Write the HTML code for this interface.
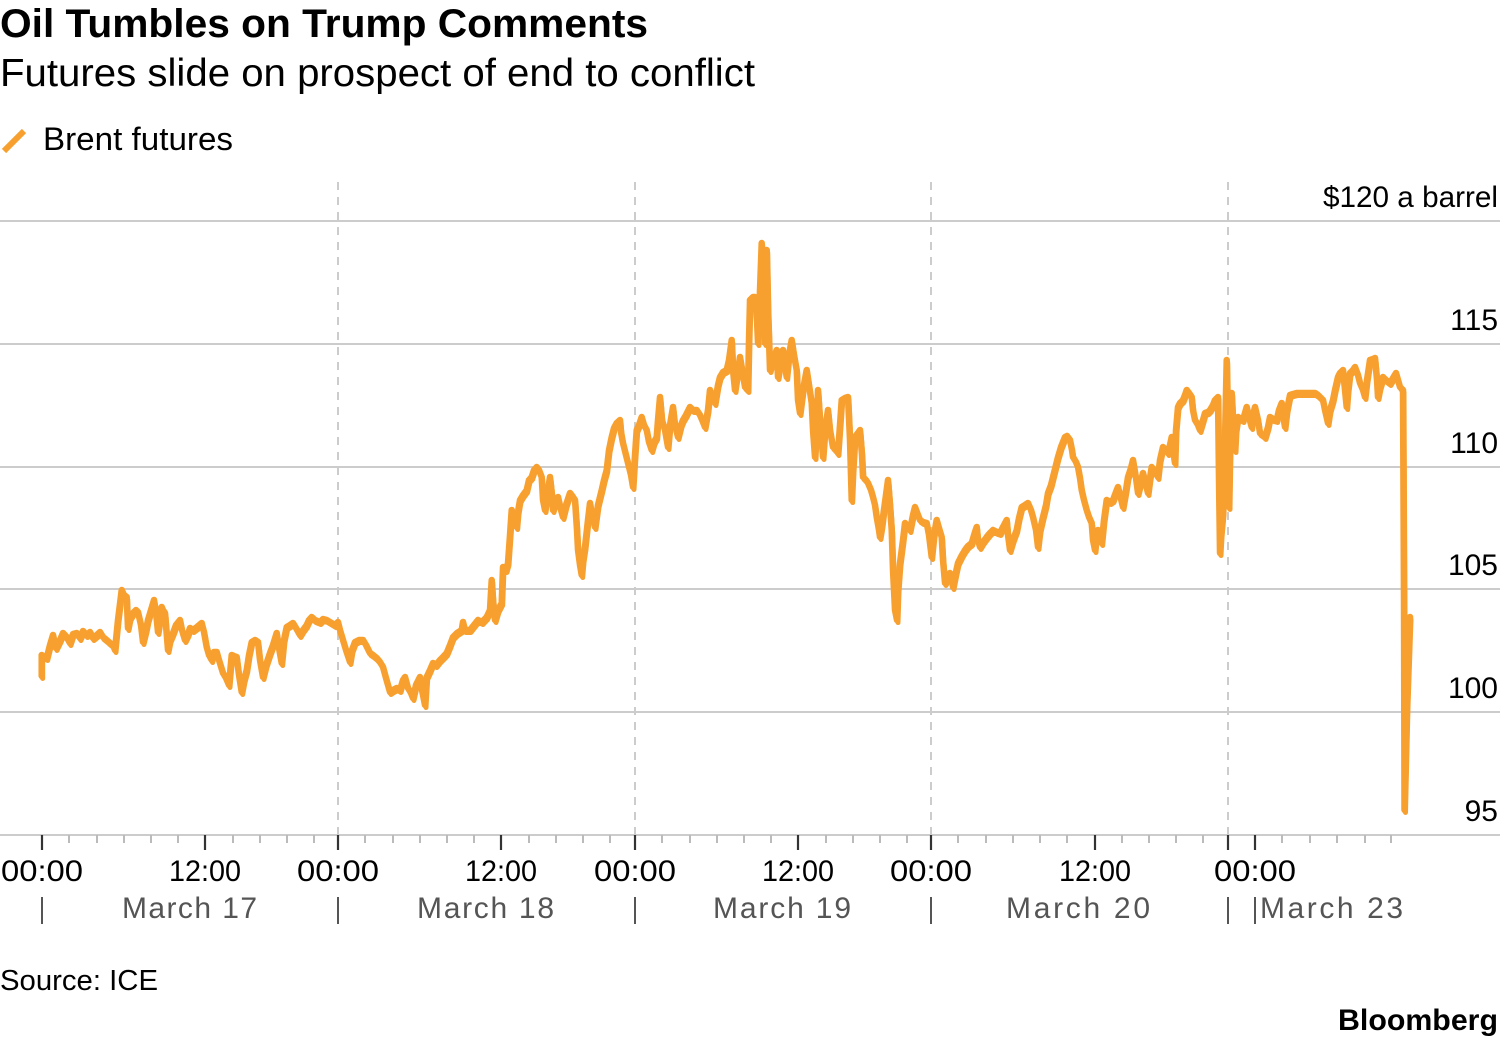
<!DOCTYPE html>
<html>
<head>
<meta charset="utf-8">
<style>
  html, body { margin: 0; padding: 0; background: #fff; }
  svg { display: block; }
  text { font-family: "Liberation Sans", "DejaVu Sans", sans-serif; }
</style>
</head>
<body>
<svg width="1500" height="1041" viewBox="0 0 1500 1041" xmlns="http://www.w3.org/2000/svg">
  <defs>
    <polyline id="series" fill="none" stroke-linejoin="round" stroke-linecap="round" points="
41.7,676 41.7,655 46.7,658 50,645 53,635 56,648 60,640 63,633 66.7,637 70,643 73,634 76.7,633 80,638 83,631 86.7,635 90,632 93,638 96.7,635 100,632 103,637 106.7,640 110,643 113,645 115,650 118,620 121.7,590 124,595 126.7,597 128,628 130,618 133,613 136,610 138,612 141,625 143,642 146,630 148,620 151,610 154,600 156,612 158,632 160,620 161.7,607 163,610 165,613 168,650 170,640 173,633 176,625 180,620 182,630 185,640 188,634 190,628 193,630 197,627 201.7,623 204,632 206.7,647 209,655 211.7,660 214,652 216.7,652 219,660 223,673 226,678 229,685 231.7,655 234,656 236.7,657 239,675 241.7,692 244,680 246.7,670 249,655 251.7,642 255,640 258,642 260,660 263,677 266,665 270,653 273,645 276.7,633 279,648 281.7,663 284,640 286.7,627 290,625 293,623 296,628 300,635 303,630 306.7,625 309,620 311.7,617 315,620 320,622 323,619 326.7,620 330,622 335,625 338,622 340,630 343,640 346,650 350,662 352,650 355,642 359,640 363,640 366,645 370,653 373,655 376.7,658 380,662 383,667 386,678 390,692 393,690 396.7,688 400,690 403,680 405,677 408,688 411,693 413,698 416,685 420,677 422,690 425,705
426.7,677 430,670 433,663 436,665 440,660 443,657 446.7,653 450,645 453,637 457,633 461.7,630 463,622 465,630 470,630 474,625 478,620 482,622 486.7,617 490,610 491.7,580 493,600 495,620 498,610 501.7,603 503,567 506,570 508,563 510,535 511.7,510 514,520 516.7,527 518,512 520,500 523,495 526.7,490 529,480 531.7,477 534,470 536.7,467 539,470 541.7,477 543,500 545,510 548,490 550,477 552,495 553,510 556,500 558,497 561,510 563,517 566,505 570,493 573,497 575,500 577,530 578,550 580,565 581.7,575 583,560 585,547 588,520 590,503 592,515 595,527 598,505 601.7,490 604,480 606.7,470 609,450 611.7,437 614,428 616.7,423 620,420 621,432 623,443 626,455 628,463 631,475 633,487 635,455 636.7,430 639,425 641.7,417 644,425 646.7,430 649,442 651.7,450 654,442 656.7,437 658,420 660,397 662,420 665,430 668,447 670,425 673,407 675,425 678,437 681,425 683,420 686,415 690,407 693,410 696.7,410 700,415 703,422 705,427 708,410 710,390 713,398 715,403 718,385 720,377 723,372 726.7,370 729,360 731.7,340 733,370 735,390 738,370 740,357 743,375 745,387 748,390 749,340 750,300 753,297 755,297 757,320 758,343 760,290 761.7,243 763,280 765,343 766,300 766.7,250 768,310 770,370 773,360 776.7,350 778,377 781,360 783,350 785,365 786.7,377 789,355 791.7,340 794,355 796.7,370 798,400 800,413 803,390 806.7,370 809,385 811.7,403 813,430 815,457 817,420 818,390
820,420 823,457 825,430 828,410 830,430 833,447 836,450 838,453 840,425 841.7,400 845,398 848,397 850,440 851.7,500 853,470 855,437 858,433 860,430 862,455 863,477 866,480 868,483 871,490 873,497 875,505 876.7,517 879,530 880,537 882,525 883,517 886,495 888,480 890,505 891.7,530 893,570 895,610 897,620 898,590 900,563 903,540 905,523 908,527 910,530 913,515 915,507 918,515 920,520 923,522 926.7,523 929,535 931.7,557 934,535 936.7,520 939,528 941.7,537 943,560 945,583 948,578 950,573 952,580 953,587 956,572 958,563 962,555 965,550 968,546 971.7,543 975,532 976.7,527 978,540 980,547 983,542 986.7,537 990,533 993,530 997,532 1000,533 1003,527 1006.7,520 1008,535 1010,550 1013,540 1016.7,530 1019,518 1021.7,507 1025,505 1028,503 1031,510 1033,517 1036,530 1038,547 1040,530 1043,517 1046,505 1048,493 1051,485 1053,477 1056,465 1058,457 1061,447 1065,437 1067,436 1070,440 1072,450 1073,457 1076,462 1078,467 1080,478 1081.7,490 1084,500 1086.7,510 1089,517 1091.7,523 1093,540 1095,550 1096,540 1098,530 1100,537 1101.7,543 1104,520 1106.7,500 1110,502 1113,500 1116,492 1118,487 1120,495 1123,507 1126,490 1128,477 1131,468 1133,460 1136,478 1138,493
1140,485 1143,473 1146,485 1148,493 1150,478 1151.7,467 1155,472 1158,477 1160,460 1163,447 1166,450 1168,453 1170,445 1171.7,437 1173,450 1175,463 1176,430 1178,407 1180,403 1183,400 1185,395 1186.7,390 1189,393 1191.7,397 1193,410 1195,420 1198,425 1200,430 1203,420 1205,413 1208,412 1210,410 1213,405 1215,400 1217,398 1218,397 1219,480 1220,553 1221,535 1223,513 1225,440 1226.7,360 1228,430 1229,507 1230,450 1231.7,393 1233,420 1235,450 1236,430 1238,417 1241,419 1243,420 1245,413 1246.7,407 1249,417 1251.7,427 1253,415 1255,407 1258,420 1260,433 1263,435 1265,437 1268,427 1270,417 1273,419 1276.7,420 1279,410 1281.7,403 1283,415 1285,427 1287,410 1290,395 1293,394 1296.7,393 1300,393 1303,393 1306.7,393 1310,393 1313,393 1315,393 1318,395 1320,397 1323,400 1325,410 1328,423 1330,410 1333,400 1335,390 1338,377 1340,373 1343,370 1345,390 1346.7,407 1348,390 1350,373 1353,370 1355,367 1358,375 1360,383 1363,390 1365,397 1367,380 1370,360 1373,359 1375,358 1377,380 1378,397 1380,387 1383,377 1386,380 1390,383 1393,378 1396,373 1398,380 1400,387 1403,390 1404,600 1404.5,810 1407,705 1410,617"/>
  </defs>

  <rect x="0" y="0" width="1500" height="1041" fill="#fff"/>

  <!-- Titles -->
  <text x="0" y="37" font-size="40" font-weight="bold" fill="#000" textLength="648" lengthAdjust="spacingAndGlyphs">Oil Tumbles on Trump Comments</text>
  <text x="0" y="86" font-size="39" fill="#000" textLength="755" lengthAdjust="spacingAndGlyphs">Futures slide on prospect of end to conflict</text>

  <!-- Legend -->
  <line x1="4" y1="151" x2="24" y2="131" stroke="#f7a030" stroke-width="6"/>
  <text x="43" y="150" font-size="32" fill="#000" textLength="190" lengthAdjust="spacingAndGlyphs">Brent futures</text>

  <!-- Gridlines -->
  <g stroke="#cccccc" stroke-width="2">
    <line x1="0" y1="221" x2="1500" y2="221"/>
    <line x1="0" y1="344" x2="1500" y2="344"/>
    <line x1="0" y1="467" x2="1500" y2="467"/>
    <line x1="0" y1="589" x2="1500" y2="589"/>
    <line x1="0" y1="712" x2="1500" y2="712"/>
  </g>

  <!-- Dashed day lines -->
  <g stroke="#cccccc" stroke-width="2" stroke-dasharray="8 7">
    <line x1="338" y1="182" x2="338" y2="835"/>
    <line x1="635" y1="182" x2="635" y2="835"/>
    <line x1="931" y1="182" x2="931" y2="835"/>
    <line x1="1228" y1="182" x2="1228" y2="835"/>
  </g>

  <!-- Y labels -->
  <g font-size="30" fill="#000" text-anchor="end">
    <text x="1498" y="207" textLength="175" lengthAdjust="spacingAndGlyphs">$120 a barrel</text>
    <text x="1498" y="330">115</text>
    <text x="1498" y="453">110</text>
    <text x="1498" y="575">105</text>
    <text x="1498" y="698">100</text>
    <text x="1498" y="821">95</text>
  </g>

  <!-- Axis -->
  <line x1="0" y1="835" x2="1500" y2="835" stroke="#cccccc" stroke-width="2"/>

  <!-- Minor ticks -->
  <g stroke="#bbbbbb" stroke-width="2">
    <line x1="69" y1="835" x2="69" y2="843"/><line x1="97" y1="835" x2="97" y2="843"/><line x1="124" y1="835" x2="124" y2="843"/><line x1="151" y1="835" x2="151" y2="843"/><line x1="178" y1="835" x2="178" y2="843"/>
    <line x1="233" y1="835" x2="233" y2="843"/><line x1="260" y1="835" x2="260" y2="843"/><line x1="287" y1="835" x2="287" y2="843"/><line x1="314" y1="835" x2="314" y2="843"/>

    <line x1="365" y1="835" x2="365" y2="843"/><line x1="393" y1="835" x2="393" y2="843"/><line x1="420" y1="835" x2="420" y2="843"/><line x1="447" y1="835" x2="447" y2="843"/><line x1="474" y1="835" x2="474" y2="843"/>
    <line x1="529" y1="835" x2="529" y2="843"/><line x1="556" y1="835" x2="556" y2="843"/><line x1="583" y1="835" x2="583" y2="843"/><line x1="610" y1="835" x2="610" y2="843"/>

    <line x1="662" y1="835" x2="662" y2="843"/><line x1="690" y1="835" x2="690" y2="843"/><line x1="717" y1="835" x2="717" y2="843"/><line x1="744" y1="835" x2="744" y2="843"/><line x1="771" y1="835" x2="771" y2="843"/>
    <line x1="826" y1="835" x2="826" y2="843"/><line x1="853" y1="835" x2="853" y2="843"/><line x1="880" y1="835" x2="880" y2="843"/><line x1="907" y1="835" x2="907" y2="843"/>

    <line x1="958" y1="835" x2="958" y2="843"/><line x1="986" y1="835" x2="986" y2="843"/><line x1="1013" y1="835" x2="1013" y2="843"/><line x1="1040" y1="835" x2="1040" y2="843"/><line x1="1067" y1="835" x2="1067" y2="843"/>
    <line x1="1122" y1="835" x2="1122" y2="843"/><line x1="1149" y1="835" x2="1149" y2="843"/><line x1="1176" y1="835" x2="1176" y2="843"/><line x1="1203" y1="835" x2="1203" y2="843"/>

    <line x1="1282" y1="835" x2="1282" y2="843"/><line x1="1310" y1="835" x2="1310" y2="843"/><line x1="1337" y1="835" x2="1337" y2="843"/><line x1="1365" y1="835" x2="1365" y2="843"/><line x1="1391" y1="835" x2="1391" y2="843"/>
  </g>

  <!-- Major ticks -->
  <g stroke="#333333" stroke-width="2.2">
    <line x1="42" y1="835" x2="42" y2="850"/>
    <line x1="205" y1="835" x2="205" y2="850"/>
    <line x1="338" y1="835" x2="338" y2="850"/>
    <line x1="501" y1="835" x2="501" y2="850"/>
    <line x1="635" y1="835" x2="635" y2="850"/>
    <line x1="798" y1="835" x2="798" y2="850"/>
    <line x1="931" y1="835" x2="931" y2="850"/>
    <line x1="1095" y1="835" x2="1095" y2="850"/>
    <line x1="1228" y1="835" x2="1228" y2="850"/>
    <line x1="1255" y1="835" x2="1255" y2="850"/>
  </g>

  <!-- Time labels -->
  <g font-size="30" fill="#000" text-anchor="middle">
    <text x="42" y="881" textLength="82" lengthAdjust="spacingAndGlyphs">00:00</text>
    <text x="205" y="881" textLength="72" lengthAdjust="spacingAndGlyphs">12:00</text>
    <text x="338" y="881" textLength="82" lengthAdjust="spacingAndGlyphs">00:00</text>
    <text x="501" y="881" textLength="72" lengthAdjust="spacingAndGlyphs">12:00</text>
    <text x="635" y="881" textLength="82" lengthAdjust="spacingAndGlyphs">00:00</text>
    <text x="798" y="881" textLength="72" lengthAdjust="spacingAndGlyphs">12:00</text>
    <text x="931" y="881" textLength="82" lengthAdjust="spacingAndGlyphs">00:00</text>
    <text x="1095" y="881" textLength="72" lengthAdjust="spacingAndGlyphs">12:00</text>
    <text x="1255" y="881" textLength="82" lengthAdjust="spacingAndGlyphs">00:00</text>
  </g>

  <!-- Date separators -->
  <g stroke="#555555" stroke-width="2">
    <line x1="42" y1="897" x2="42" y2="924"/>
    <line x1="338" y1="897" x2="338" y2="924"/>
    <line x1="635" y1="897" x2="635" y2="924"/>
    <line x1="931" y1="897" x2="931" y2="924"/>
    <line x1="1228" y1="897" x2="1228" y2="924"/>
    <line x1="1255" y1="897" x2="1255" y2="924"/>
  </g>

  <!-- Date labels -->
  <g font-size="30" fill="#555555">
    <text x="122" y="918" textLength="135" lengthAdjust="spacing">March 17</text>
    <text x="417" y="918" textLength="137" lengthAdjust="spacing">March 18</text>
    <text x="713" y="918" textLength="138" lengthAdjust="spacing">March 19</text>
    <text x="1006" y="918" textLength="144" lengthAdjust="spacing">March 20</text>
    <text x="1260" y="918" textLength="143" lengthAdjust="spacing">March 23</text>
  </g>

  <!-- Series (doubled with slight offset to mimic dense tick noise) -->
  <use href="#series" stroke="#f7a030" stroke-width="5" transform="translate(1,2.5)"/>
  <use href="#series" stroke="#f7a030" stroke-width="6.5"/>

  <!-- Footer -->
  <text x="0" y="990" font-size="29" fill="#000" textLength="158" lengthAdjust="spacingAndGlyphs">Source: ICE</text>
  <text x="1498" y="1030" font-size="30" font-weight="bold" fill="#000" text-anchor="end" textLength="160" lengthAdjust="spacingAndGlyphs">Bloomberg</text>
</svg>
</body>
</html>
